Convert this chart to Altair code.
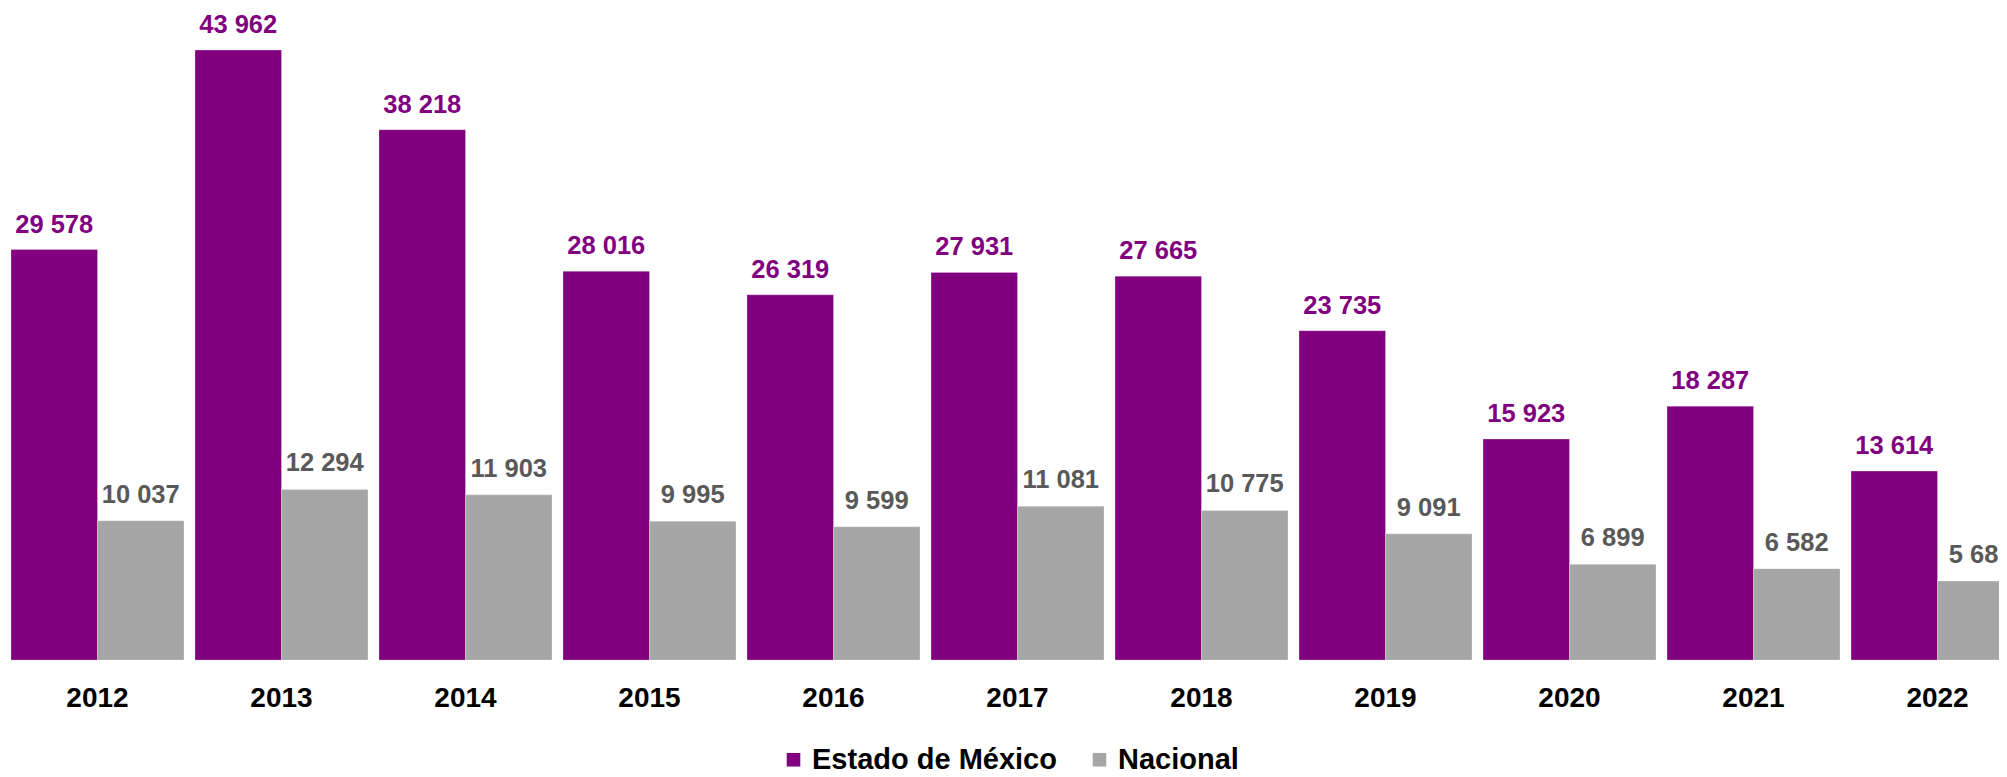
import altair as alt
import pandas as pd

years = ["2012", "2013", "2014", "2015", "2016", "2017", "2018", "2019", "2020", "2021", "2022"]
estado = [29578, 43962, 38218, 28016, 26319, 27931, 27665, 23735, 15923, 18287, 13614]
nacional = [10037, 12294, 11903, 9995, 9599, 11081, 10775, 9091, 6899, 6582, 5689]
series = ["Estado de México", "Nacional"]

rows = []
for i, y in enumerate(years):
    rows.append({"year": y, "serie": series[0], "value": estado[i]})
    rows.append({"year": y, "serie": series[1], "value": nacional[i]})
df = pd.DataFrame(rows)

PURPLE = "#800080"
GRAY = "#A6A6A6"
FONT = "Liberation Sans"

x_enc = alt.X("year:N", sort=years,
              scale=alt.Scale(range=[3, 2016], paddingInner=0.06, paddingOuter=0),
              axis=alt.Axis(title=None, labelAngle=0, domain=False, ticks=False,
                            labelFont=FONT, labelFontSize=28, labelFontWeight="bold",
                            labelColor="#000000", labelPadding=24, grid=False))
y_enc = alt.Y("value:Q", scale=alt.Scale(domain=[0, 46989], nice=False, zero=True),
              axis=None)
xo = alt.XOffset("serie:N", sort=series)

base = alt.Chart(df).transform_calculate(
    lbl="replace(format(datum.value, ',d'), ',', ' ')"
)

bars = base.mark_bar(stroke="#ffffff", strokeOpacity=0.25, strokeWidth=1).encode(
    x=x_enc, y=y_enc, xOffset=xo,
    color=alt.Color("serie:N", sort=series,
                    scale=alt.Scale(domain=series, range=[PURPLE, GRAY]),
                    legend=alt.Legend(title=None, orient="none", direction="horizontal",
                                      legendX=771, legendY=737, symbolType="square",
                                      symbolSize=185, symbolStrokeWidth=0,
                                      labelFont=FONT, labelFontSize=29,
                                      labelFontWeight="bold", labelColor="#000000",
                                      labelLimit=0, labelOffset=4, columnPadding=28)),
)

txt_e = base.transform_filter(alt.datum.serie == series[0]).mark_text(
    font=FONT, fontSize=25.5, fontWeight="bold", color=PURPLE,
    baseline="alphabetic", dy=-17
).encode(x=x_enc, y=y_enc, xOffset=xo, text="lbl:N")

txt_n = base.transform_filter(alt.datum.serie == series[1]).mark_text(
    font=FONT, fontSize=25.5, fontWeight="bold", color="#595959",
    baseline="alphabetic", dy=-18
).encode(x=x_enc, y=y_enc, xOffset=xo, text="lbl:N")

chart = alt.layer(bars, txt_e, txt_n).properties(
    width=1991, height=652,
    padding={"left": 0, "top": 0, "right": 0, "bottom": 117},
    autosize=alt.AutoSizeParams(type="none"),
).configure_view(stroke=None).configure_scale(offsetBandPaddingInner=0)

chart.save("out.html", embed_options={"renderer": "svg", "actions": False})
